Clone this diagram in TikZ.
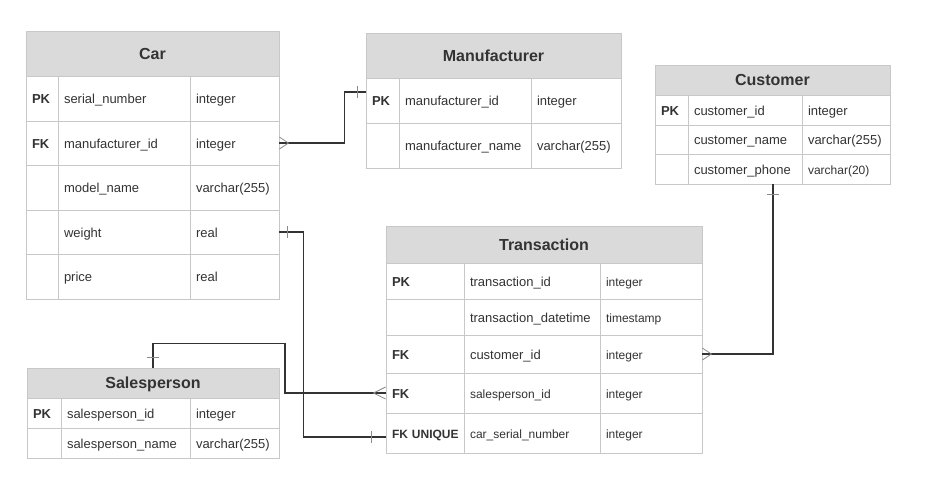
\documentclass[tikz,border=0pt]{standalone}
\usepackage{fontspec}
\setmainfont{Liberation Sans}
\usetikzlibrary{calc}
\definecolor{ertext}{HTML}{333333}
\definecolor{erhead}{HTML}{DADADA}
\definecolor{erborder}{HTML}{C8C8C8}
\definecolor{erline}{HTML}{333333}
\definecolor{ermark}{HTML}{8A8A8A}
\newcommand\ercell[7]{%
  \pgfmathsetmacro\ercw{#4-#2-12}%
  \pgfmathsetmacro\erch{#5-#3}%
  \node[cellbox,#6,text width=\ercw pt,minimum height=\erch pt] (#1) at ({(#2+#4)/2},{(#3+#5)/2}) {#7};%
}
\tikzset{
  cellbox/.style={draw=erborder, line width=0.8pt, fill=white, inner xsep=6pt, inner ysep=0pt,
    align=left, text=ertext, font=\fontsize{13}{15}\selectfont, anchor=center,
    text height=12pt, text depth=2pt},
  head/.style={fill=erhead, align=center, font=\fontsize{16}{18}\selectfont\bfseries,
    text height=11.5pt, text depth=0pt},
  key/.style={font=\fontsize{13}{15}\selectfont\bfseries},
  keysmall/.style={font=\fontsize{12}{14}\selectfont\bfseries},
  small/.style={font=\fontsize{12}{14}\selectfont},
  rel/.style={draw=erline, line width=1.2pt},
  markline/.style={draw=ermark, line width=0.8pt},
}
\begin{document}
\begin{tikzpicture}[x=1pt,y=-1pt]
\useasboundingbox[fill=white] (0,0) rectangle (928,490);
% Car
\ercell{car-h}{26}{31}{279}{76}{head}{Car}
\ercell{car-k1}{26}{76}{58}{121}{key}{PK}
\ercell{car-n1}{58}{76}{190}{121}{}{serial\_number}
\ercell{car-t1}{190}{76}{279}{121}{}{integer}
\ercell{car-k2}{26}{121}{58}{165}{key}{FK}
\ercell{car-n2}{58}{121}{190}{165}{}{manufacturer\_id}
\ercell{car-t2}{190}{121}{279}{165}{}{integer}
\ercell{car-k3}{26}{165}{58}{210}{key}{}
\ercell{car-n3}{58}{165}{190}{210}{}{model\_name}
\ercell{car-t3}{190}{165}{279}{210}{}{varchar(255)}
\ercell{car-k4}{26}{210}{58}{254}{key}{}
\ercell{car-n4}{58}{210}{190}{254}{}{weight}
\ercell{car-t4}{190}{210}{279}{254}{}{real}
\ercell{car-k5}{26}{254}{58}{299}{key}{}
\ercell{car-n5}{58}{254}{190}{299}{}{price}
\ercell{car-t5}{190}{254}{279}{299}{}{real}
% Manufacturer
\ercell{man-h}{366}{33}{621}{78}{head}{Manufacturer}
\ercell{man-k1}{366}{78}{399}{123}{key}{PK}
\ercell{man-n1}{399}{78}{531}{123}{}{manufacturer\_id}
\ercell{man-t1}{531}{78}{621}{123}{}{integer}
\ercell{man-k2}{366}{123}{399}{168}{key}{}
\ercell{man-n2}{399}{123}{531}{168}{}{manufacturer\_name}
\ercell{man-t2}{531}{123}{621}{168}{}{varchar(255)}
% Customer
\ercell{cu-h}{655}{65}{890}{95}{head}{Customer}
\ercell{cu-k1}{655}{95}{688}{125}{key}{PK}
\ercell{cu-n1}{688}{95}{802}{125}{}{customer\_id}
\ercell{cu-t1}{802}{95}{890}{125}{}{integer}
\ercell{cu-k2}{655}{125}{688}{154}{key}{}
\ercell{cu-n2}{688}{125}{802}{154}{}{customer\_name}
\ercell{cu-t2}{802}{125}{890}{154}{}{varchar(255)}
\ercell{cu-k3}{655}{154}{688}{184}{key}{}
\ercell{cu-n3}{688}{154}{802}{184}{}{customer\_phone}
\ercell{cu-t3}{802}{154}{890}{184}{small}{varchar(20)}
% Transaction
\ercell{tr-h}{386}{226}{702}{263}{head}{Transaction}
\ercell{tr-k1}{386}{263}{464}{299}{key}{PK}
\ercell{tr-n1}{464}{263}{600}{299}{}{transaction\_id}
\ercell{tr-t1}{600}{263}{702}{299}{small}{integer}
\ercell{tr-k2}{386}{299}{464}{335}{key}{}
\ercell{tr-n2}{464}{299}{600}{335}{}{transaction\_datetime}
\ercell{tr-t2}{600}{299}{702}{335}{small}{timestamp}
\ercell{tr-k3}{386}{335}{464}{373}{key}{FK}
\ercell{tr-n3}{464}{335}{600}{373}{}{customer\_id}
\ercell{tr-t3}{600}{335}{702}{373}{small}{integer}
\ercell{tr-k4}{386}{373}{464}{413}{key}{FK}
\ercell{tr-n4}{464}{373}{600}{413}{small}{salesperson\_id}
\ercell{tr-t4}{600}{373}{702}{413}{small}{integer}
\ercell{tr-k5}{386}{413}{464}{453}{keysmall}{\mbox{FK UNIQUE}}
\ercell{tr-n5}{464}{413}{600}{453}{small}{car\_serial\_number}
\ercell{tr-t5}{600}{413}{702}{453}{small}{integer}
% Salesperson
\ercell{sp-h}{27}{368}{279}{398}{head}{Salesperson}
\ercell{sp-k1}{27}{398}{61}{428}{key}{PK}
\ercell{sp-n1}{61}{398}{190}{428}{}{salesperson\_id}
\ercell{sp-t1}{190}{398}{279}{428}{}{integer}
\ercell{sp-k2}{27}{428}{61}{458}{key}{}
\ercell{sp-n2}{61}{428}{190}{458}{}{salesperson\_name}
\ercell{sp-t2}{190}{428}{279}{458}{}{varchar(255)}
% Connectors
% Car -> Manufacturer
\draw[rel] (car-t2.east) -- ++(65,0) |- ([yshift=8.5pt]man-k1.west);
\draw[markline] ([yshift=6pt]car-t2.east) -- ([xshift=9pt]car-t2.east) -- ([yshift=-6pt]car-t2.east);
\draw[markline] ([xshift=-8pt,yshift=14.5pt]man-k1.west) -- ([xshift=-8pt,yshift=2.5pt]man-k1.west);
% Car weight -> Transaction car_serial_number
\draw[rel] (car-t4.east) -- ++(24,0) |- ([yshift=-4pt]tr-k5.west);
\draw[markline] ([xshift=8pt,yshift=6pt]car-t4.east) -- ([xshift=8pt,yshift=-6pt]car-t4.east);
\draw[markline] ([xshift=-14pt,yshift=2pt]tr-k5.west) -- ([xshift=-14pt,yshift=-10pt]tr-k5.west);
% Salesperson -> Transaction
\draw[rel] (sp-h.north) -- ++(0,-24) -- ++(132,0) |- (tr-k4.west);
\draw[markline] ([xshift=-6pt,yshift=10pt]sp-h.north) -- ([xshift=6pt,yshift=10pt]sp-h.north);
\draw[markline] ([yshift=6pt]tr-k4.west) -- ([xshift=-12pt]tr-k4.west) -- ([yshift=-6pt]tr-k4.west);
% Customer -> Transaction
\draw[rel] ([xshift=28pt]cu-n3.south) |- (tr-t3.east);
\draw[markline] ([xshift=22pt,yshift=-10pt]cu-n3.south) -- ([xshift=34pt,yshift=-10pt]cu-n3.south);
\draw[markline] ([yshift=6pt]tr-t3.east) -- ([xshift=9pt]tr-t3.east) -- ([yshift=-6pt]tr-t3.east);
\end{tikzpicture}
\end{document}
